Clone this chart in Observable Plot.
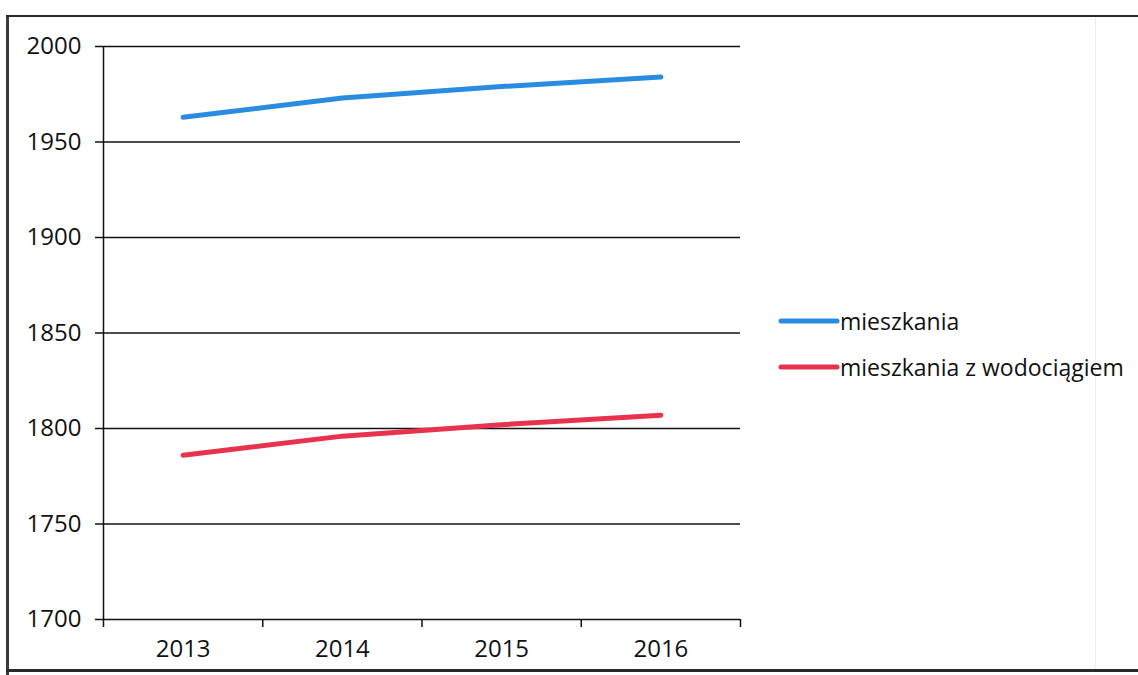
<!DOCTYPE html>
<html>
<head>
<meta charset="utf-8">
<script src="https://cdn.jsdelivr.net/npm/d3@7"></script>
<script src="https://cdn.jsdelivr.net/npm/@observablehq/plot@0.6"></script>
<style>
  html, body { margin: 0; padding: 0; background: #fff; }
  #wrap { position: relative; width: 1138px; height: 675px; overflow: hidden; font-family: "Open Sans", sans-serif; }
  #chart { position: absolute; left: 0; top: 0; }
  .legend { position: absolute; left: 778px; font-size: 23px; color: #111; display: flex; align-items: center; }
  .legend svg { display: block; }
  .bleft { position: absolute; left: 6px; top: 15px; width: 3px; height: 660px; background: #3a3a3a; }
  .btop { position: absolute; left: 6px; top: 15px; width: 1132px; height: 2px; background: #2a2a2a; }
  .bbottom { position: absolute; left: 6px; top: 669px; width: 1132px; height: 3px; background: #2a2a2a; }
  .bright { position: absolute; left: 1095px; top: 17px; width: 1px; height: 652px; background: #ececec; }
</style>
</head>
<body>
<div id="wrap">
  <div id="chart"></div>
  <div class="bleft"></div>
  <div class="btop"></div>
  <div class="bbottom"></div>
  <div class="bright"></div>
</div>
<script>
// Data
const years = [2013, 2014, 2015, 2016];
const mieszkania = [1963, 1973, 1979, 1984];
const zWodociagiem = [1786, 1796, 1802, 1807];
const seriesNames = ["mieszkania", "mieszkania z wodociągiem"];
const seriesColors = ["#2a8ce0", "#e8334f"];
const yTicks = [1700, 1750, 1800, 1850, 1900, 1950, 2000];
const xBoundaries = [2012.5, 2013.5, 2014.5, 2015.5, 2016.5];

const rows = [];
years.forEach((yr, i) => {
  rows.push({year: yr, value: mieszkania[i], series: seriesNames[0]});
  rows.push({year: yr, value: zWodociagiem[i], series: seriesNames[1]});
});

const plot = Plot.plot({
  width: 1138,
  height: 675,
  marginTop: 46,
  marginBottom: 56,
  marginLeft: 103,
  marginRight: 398,
  style: {fontFamily: "'Open Sans', sans-serif", fontSize: "24px", color: "#111", background: "transparent"},
  x: {type: "linear", domain: [2012.5, 2016.5]},
  y: {domain: [1700, 2000]},
  color: {domain: seriesNames, range: seriesColors},
  marks: [
    Plot.ruleY(yTicks, {stroke: "#111", strokeWidth: 1.5}),
    Plot.ruleX([xBoundaries[0]], {y1: 1700, y2: 2000, stroke: "#111", strokeWidth: 1.5}),
    Plot.axisY({ticks: yTicks, tickSize: 8, tickPadding: 14, tickFormat: d => String(d), stroke: "#111", strokeWidth: 1.5, label: null, fontSize: 24, fill: "#111"}),
    Plot.axisX({ticks: xBoundaries, tickSize: 8, tickFormat: () => "", stroke: "#111", strokeWidth: 1.5, label: null}),
    Plot.axisX({ticks: years, tickSize: 0, tickPadding: 20, tickFormat: d => String(d), label: null, fontSize: 24, fill: "#111"}),
    Plot.lineY(rows, {x: "year", y: "value", z: "series", stroke: "series", strokeWidth: 5, strokeLinecap: "round", strokeLinejoin: "round"})
  ]
});
document.getElementById("chart").appendChild(plot);

// Legend
const wrap = document.getElementById("wrap");
const legendTops = [305, 351];
seriesNames.forEach((name, i) => {
  const div = document.createElement("div");
  div.className = "legend";
  div.style.top = legendTops[i] + "px";
  div.innerHTML = `<svg width="62" height="10"><line x1="3" y1="5" x2="59" y2="5" stroke="${seriesColors[i]}" stroke-width="5" stroke-linecap="round"/></svg><span>${name}</span>`;
  wrap.appendChild(div);
});
</script>
</body>
</html>
